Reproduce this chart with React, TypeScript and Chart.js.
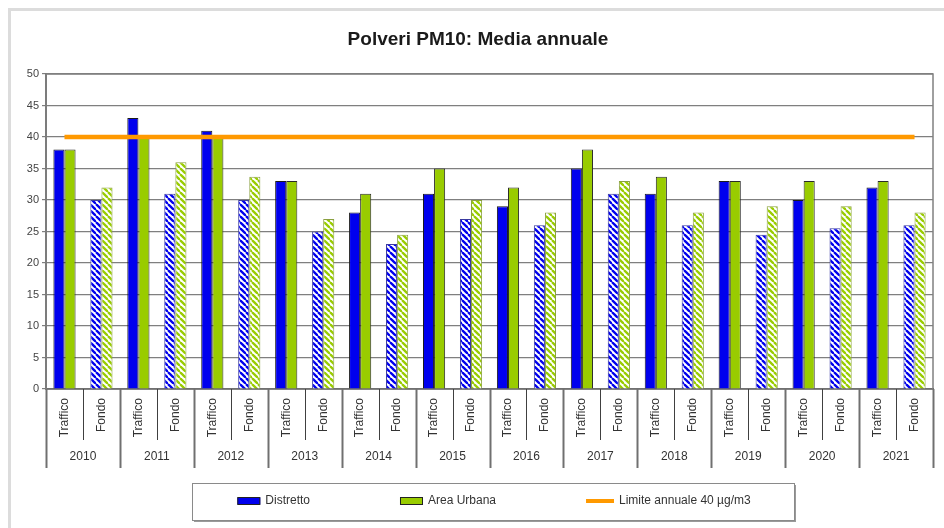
import React, { useEffect, useRef } from 'react';
import { Chart, registerables } from 'chart.js';

Chart.register(...registerables);

// ---- data ----
const years = ['2010', '2011', '2012', '2013', '2014', '2015', '2016', '2017', '2018', '2019', '2020', '2021'];
const siteTypes = ['Traffico', 'Fondo'];
const distretto = [38, 30, 43, 31, 41, 30, 33, 25, 28, 23, 31, 27, 29, 26, 35, 31, 31, 26, 33, 24.5, 30, 25.5, 32, 26];
const areaUrbana = [38, 32, 40, 36, 40, 33.7, 33, 27, 31, 24.5, 35, 30, 32, 28, 38, 33, 33.7, 28, 33, 29, 33, 29, 33, 28];
const limite = [40, 40, 40, 40, 40, 40, 40, 40, 40, 40, 40, 40, 40, 40, 40, 40, 40, 40, 40, 40, 40, 40, 40, 40];
const seriesNames = ['Distretto', 'Area Urbana', 'Limite annuale 40 µg/m3'];
const titleText = 'Polveri PM10: Media annuale';
const yMin = 0;
const yMax = 50;
const yStep = 5;

// ---- style ----
const FONT = '"Liberation Sans", Arial, Helvetica, sans-serif';
const BLUE = '#0000EE';
const GREEN = '#99CC00';
const ORANGE = '#FF9900';
const TEXT = '#333333';

function hatch(color: string): CanvasPattern | string {
  const s = 6;
  const c = document.createElement('canvas');
  c.width = s;
  c.height = s;
  const g = c.getContext('2d');
  if (!g) return color;
  g.fillStyle = '#ffffff';
  g.fillRect(0, 0, s, s);
  g.strokeStyle = color;
  g.lineWidth = 2.3;
  for (const o of [-s, 0, s]) {
    g.beginPath();
    g.moveTo(o, 0);
    g.lineTo(o + s, s);
    g.stroke();
  }
  return g.createPattern(c, 'repeat') || color;
}

const framePlugin = {
  id: 'frame',
  beforeDraw(chart: any) {
    const { ctx, width, height } = chart;
    ctx.save();
    ctx.fillStyle = '#ffffff';
    ctx.fillRect(0, 0, width, height);
    ctx.strokeStyle = '#dcdcdc';
    ctx.lineWidth = 3;
    ctx.beginPath();
    ctx.moveTo(9.5, height);
    ctx.lineTo(9.5, 9.5);
    ctx.lineTo(width, 9.5);
    ctx.stroke();
    ctx.restore();
  },
  beforeDatasetsDraw(chart: any) {
    const { ctx, chartArea: a } = chart;
    ctx.save();
    ctx.strokeStyle = '#808080';
    ctx.lineWidth = 1.5;
    ctx.strokeRect(a.left, a.top, a.right - a.left, a.bottom - a.top);
    ctx.restore();
  },
};

const groupAxisPlugin = {
  id: 'groupAxis',
  afterDraw(chart: any) {
    const { ctx, chartArea: a } = chart;
    const x = chart.scales.x;
    const n = x.ticks.length;
    const half = (x.getPixelForValue(1) - x.getPixelForValue(0)) / 2;
    ctx.save();
    for (let i = 0; i <= n; i++) {
      const px = i < n ? x.getPixelForValue(i) - half : x.getPixelForValue(n - 1) + half;
      const isYear = i % siteTypes.length === 0;
      ctx.strokeStyle = isYear ? '#707070' : '#404040';
      ctx.lineWidth = isYear ? 2 : 1;
      ctx.beginPath();
      ctx.moveTo(Math.round(px) + 0.5, a.bottom);
      ctx.lineTo(Math.round(px) + 0.5, a.bottom + (isYear ? 79 : 51));
      ctx.stroke();
    }
    ctx.fillStyle = TEXT;
    ctx.font = `12px ${FONT}`;
    ctx.textAlign = 'center';
    ctx.textBaseline = 'middle';
    years.forEach((yr, k) => {
      const i0 = k * siteTypes.length;
      const i1 = i0 + siteTypes.length - 1;
      const cx = (x.getPixelForValue(i0) + x.getPixelForValue(i1)) / 2;
      ctx.fillText(yr, cx, a.bottom + 68);
    });
    ctx.restore();
  },
};

const boxLegendPlugin = {
  id: 'boxLegend',
  afterDraw(chart: any) {
    const { ctx } = chart;
    const boxL = 192;
    const boxT = 483;
    const boxW = 602;
    const boxH = 37;
    const cy = boxT + 18;
    const gap = 90;
    const centerX = 494;
    ctx.save();
    ctx.strokeStyle = '#9a9a9a';
    ctx.lineWidth = 2;
    ctx.beginPath();
    ctx.moveTo(boxL + 2, boxT + boxH + 1);
    ctx.lineTo(boxL + boxW + 1, boxT + boxH + 1);
    ctx.lineTo(boxL + boxW + 1, boxT + 2);
    ctx.stroke();
    ctx.strokeStyle = '#8a8a8a';
    ctx.lineWidth = 1;
    ctx.strokeRect(boxL + 0.5, boxT + 0.5, boxW, boxH);

    ctx.font = `12px ${FONT}`;
    const ds = chart.data.datasets;
    const items = ds.map((d: any) => {
      const isLine = d.type === 'line';
      const sw = isLine ? 28 : 23;
      const tw = ctx.measureText(d.label).width;
      return { d, isLine, sw, tw, w: sw + 5 + tw };
    });
    const total = items.reduce((s: number, it: any) => s + it.w, 0) + gap * (items.length - 1);
    let cx = centerX - total / 2;
    items.forEach((it: any) => {
      if (it.isLine) {
        ctx.strokeStyle = it.d.borderColor;
        ctx.lineWidth = 4;
        ctx.beginPath();
        ctx.moveTo(cx, cy);
        ctx.lineTo(cx + it.sw, cy);
        ctx.stroke();
      } else {
        ctx.fillStyle = it.d.legendColor;
        ctx.fillRect(cx, cy - 3.5, it.sw, 7);
        ctx.strokeStyle = '#222';
        ctx.lineWidth = 1;
        ctx.strokeRect(cx + 0.5, cy - 3.5, it.sw - 1, 7);
      }
      ctx.fillStyle = TEXT;
      ctx.textAlign = 'left';
      ctx.textBaseline = 'middle';
      ctx.fillText(it.d.label, cx + it.sw + 5, cy);
      cx += it.w + gap;
    });
    ctx.restore();
  },
};

export default function App() {
  const ref = useRef<HTMLCanvasElement | null>(null);

  useEffect(() => {
    if (!ref.current) return;
    const labels = years.flatMap(() => siteTypes);
    const blueHatch = hatch(BLUE);
    const greenHatch = hatch(GREEN);
    const isTraffic = (l: string) => l === siteTypes[0];
    const distrettoColors = labels.map((l) => (isTraffic(l) ? BLUE : blueHatch));
    const urbanaColors = labels.map((l) => (isTraffic(l) ? GREEN : greenHatch));
    const distrettoBorders = labels.map((l) => (isTraffic(l) ? '#1a1a1a' : '#3a3aa0'));
    const urbanaBorders = labels.map((l) => (isTraffic(l) ? '#2a2a2a' : '#8aa040'));

    const chart = new Chart(ref.current, {
      type: 'bar',
      data: {
        labels,
        datasets: [
          {
            type: 'bar',
            label: seriesNames[0],
            data: distretto,
            backgroundColor: distrettoColors as any,
            borderColor: distrettoBorders,
            borderWidth: 1,
            categoryPercentage: 0.6,
            barPercentage: 1,
            order: 1,
            legendColor: BLUE,
          } as any,
          {
            type: 'bar',
            label: seriesNames[1],
            data: areaUrbana,
            backgroundColor: urbanaColors as any,
            borderColor: urbanaBorders,
            borderWidth: 1,
            categoryPercentage: 0.6,
            barPercentage: 1,
            order: 1,
            legendColor: GREEN,
          } as any,
          {
            type: 'line',
            label: seriesNames[2],
            data: limite,
            borderColor: ORANGE,
            backgroundColor: ORANGE,
            borderWidth: 4.5,
            pointRadius: 0,
            fill: false,
            order: 0,
          } as any,
        ],
      },
      options: {
        animation: false,
        responsive: true,
        maintainAspectRatio: false,
        layout: { padding: { left: 23, right: 11, top: 0, bottom: 0 } },
        plugins: {
          legend: { display: false },
          tooltip: { enabled: false },
          title: {
            display: true,
            text: titleText,
            color: '#1a1a1a',
            font: { family: FONT, size: 19, weight: 'bold' },
            padding: { top: 28.6, bottom: 22.6 },
          },
        },
        scales: {
          x: {
            grid: { display: false },
            border: { display: true, color: '#404040', width: 1.5 },
            ticks: {
              autoSkip: false,
              minRotation: 90,
              maxRotation: 90,
              padding: 1,
              color: TEXT,
              font: { family: FONT, size: 12 },
            },
            afterFit: (scale: any) => {
              scale.height = 139;
            },
          },
          y: {
            min: yMin,
            max: yMax,
            ticks: {
              stepSize: yStep,
              padding: 3,
              color: '#444',
              font: { family: FONT, size: 11 },
            },
            grid: { color: '#7f7f7f', lineWidth: 1.2, tickLength: 4 },
            border: { display: true, color: '#707070', width: 2 },
            afterFit: (scale: any) => {
              scale.width = 23;
            },
          },
        },
      },
      plugins: [framePlugin, groupAxisPlugin, boxLegendPlugin],
    });
    return () => chart.destroy();
  }, []);

  return (
    <div style={{ position: 'absolute', left: 0, top: 0, width: 944, height: 528 }}>
      <canvas ref={ref} />
    </div>
  );
}
